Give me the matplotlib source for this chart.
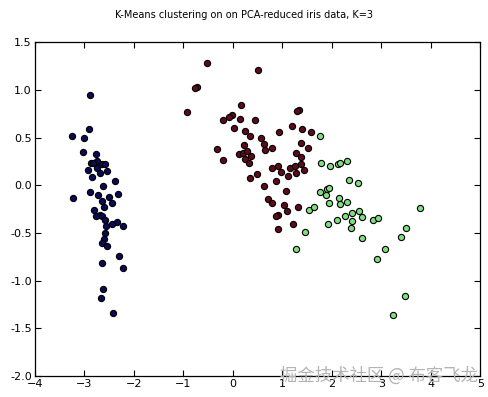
import matplotlib
matplotlib.use('Agg')
import matplotlib.pyplot as plt
import numpy as np

# PCA-reduced iris points, grouped by cluster
c0_x = [-2.91, -3.25, -3.00, -3.02, -2.77, -2.74, -2.86, -2.82, -2.65, -2.59,
        -2.74, -2.92, -2.53, -2.69, -2.84, -2.38, -2.63, -2.89, -2.73, -2.32,
        -3.23, -2.49, -2.65, -2.43, -2.61, -2.80, -2.69, -2.76, -2.65, -2.58,
        -2.34, -2.43, -2.22, -2.56, -2.58, -2.61, -2.65, -2.53, -2.30, -2.65,
        -2.22, -2.62, -2.67, -2.41, -2.88]
c0_y = [0.59, 0.52, 0.50, 0.35, 0.33, 0.26, 0.24, 0.24, 0.22, 0.22,
        0.18, 0.16, 0.15, 0.13, 0.09, 0.05, -0.01, -0.07, -0.10, -0.09,
        -0.13, -0.12, -0.16, -0.18, -0.23, -0.26, -0.31, -0.32, -0.32, -0.36,
        -0.38, -0.41, -0.43, -0.43, -0.50, -0.56, -0.60, -0.64, -0.74, -0.81,
        -0.87, -1.09, -1.18, -1.34, 0.95]

c1_x = [-0.52, 0.51, -0.72, -0.77, 0.17, -0.93, -0.02, -0.07, -0.20, 0.15,
        0.45, 1.33, 1.29, 0.03, 0.25, 0.35, 0.93, 1.19, 1.40, 1.58,
        0.58, 0.22, 0.64, -0.32, 1.37, 0.80, 1.52, -0.19, 0.13, 0.20,
        0.29, 0.37, 0.24, 0.32, 0.65, 1.28, 1.38, 0.79, 0.91, 0.98,
        1.16, 1.25, 1.38, 1.28, 1.44, 1.11, 0.50, 0.35, 0.88, 0.64,
        1.08, 0.71, 0.80, 1.03, 1.09, 1.32, 0.91, 0.88, 1.21, 0.92]
c1_y = [1.28, 1.21, 1.03, 1.02, 0.84, 0.77, 0.74, 0.72, 0.69, 0.70,
        0.69, 0.79, 0.78, 0.60, 0.57, 0.52, 0.56, 0.62, 0.59, 0.56,
        0.50, 0.42, 0.43, 0.38, 0.44, 0.39, 0.39, 0.27, 0.33, 0.34,
        0.36, 0.31, 0.28, 0.23, 0.37, 0.34, 0.30, 0.18, 0.20, 0.14,
        0.18, 0.20, 0.22, 0.13, 0.16, 0.10, 0.12, 0.08, 0.05, -0.01,
        -0.06, -0.14, -0.18, -0.21, -0.27, -0.23, -0.31, -0.32, -0.40, -0.46]

c2_x = [1.77, 1.79, 1.96, 2.12, 2.16, 2.31, 2.35, 2.53, 1.76, 1.90,
        1.94, 1.89, 1.94, 2.14, 2.16, 2.31, 1.55, 1.65, 1.92, 2.10,
        2.27, 2.41, 2.56, 2.42, 2.61, 2.38, 2.83, 2.93, 3.79, 1.46,
        2.61, 3.50, 3.40, 1.28, 3.08, 2.91, 3.49, 3.23]
c2_y = [0.52, 0.23, 0.20, 0.22, 0.23, 0.26, 0.06, 0.03, -0.07, -0.04,
        -0.03, -0.10, -0.18, -0.13, -0.20, -0.17, -0.26, -0.23, -0.40, -0.36,
        -0.32, -0.29, -0.27, -0.37, -0.33, -0.45, -0.36, -0.34, -0.24, -0.49,
        -0.55, -0.45, -0.54, -0.67, -0.67, -0.77, -1.16, -1.36]

colours = ['#0a0a55', '#5e0a18', '#7fdf7f']

fig = plt.figure(figsize=(4.89, 3.97), dpi=100)
ax = fig.add_axes([0.071, 0.053, 0.911, 0.840])

for xs, ys, col in [(c0_x, c0_y, colours[0]), (c1_x, c1_y, colours[1]), (c2_x, c2_y, colours[2])]:
    ax.scatter(xs, ys, s=20, c=col, edgecolors='black', linewidths=0.8, zorder=3)

ax.set_xlim(-4, 5)
ax.set_ylim(-2.0, 1.5)
ax.set_xticks(np.arange(-4, 6, 1))
ax.set_yticks(np.arange(-2.0, 1.51, 0.5))
ax.set_yticklabels(['%.1f' % v for v in np.arange(-2.0, 1.51, 0.5)])
ax.tick_params(direction='in', top=True, right=True, length=4, width=0.8,
               labelsize=8, pad=2)
for sp in ax.spines.values():
    sp.set_linewidth(0.9)

fig.text(0.5, 0.963, 'K-Means clustering on on PCA-reduced iris data, K=3',
         ha='center', va='center', fontsize=7)

# watermark
fig.text(0.978, 0.055, '掘金技术社区 @ 布客飞龙', ha='right', va='center',
         fontsize=12.5, color='#b4b4b4', family=['Noto Sans CJK SC', 'DejaVu Sans'])

fig.savefig('out.png', dpi=100)
